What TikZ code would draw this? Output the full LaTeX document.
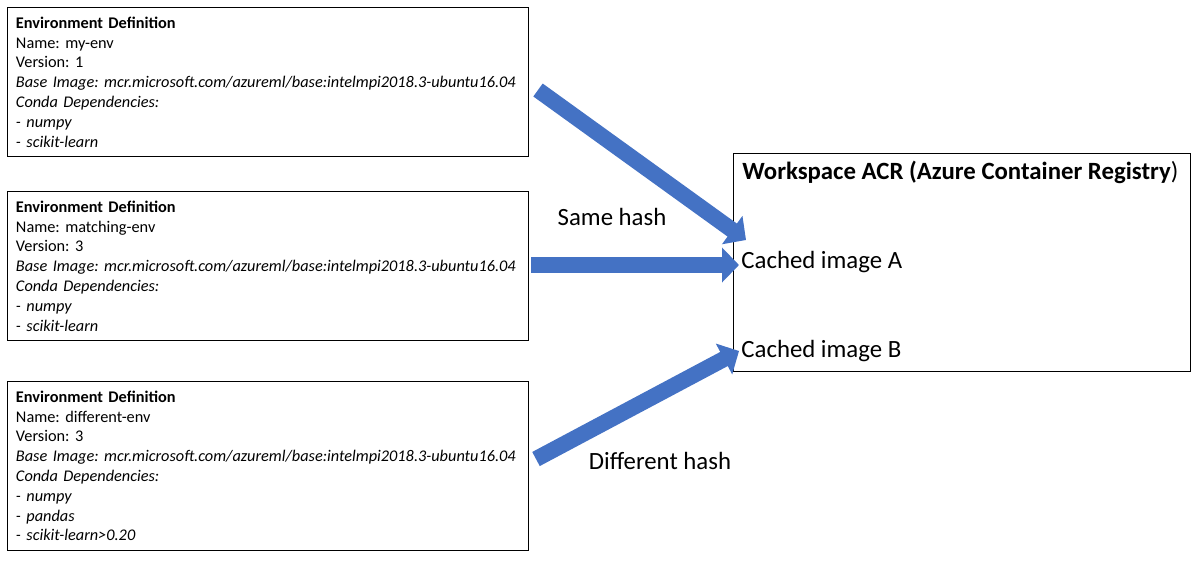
\documentclass[tikz,border=0pt]{standalone}
\usepackage{fontspec}
\setmainfont{Carlito}
\frenchspacing
\usetikzlibrary{positioning, arrows.meta}
\definecolor{arrowblue}{HTML}{4472C4}

\begin{document}
\begin{tikzpicture}[
    x=0.5pt, y=-0.5pt,
    % GLOBAL CFG
    font=\fontsize{8.15pt}{9.9pt}\selectfont,
    % Styles
    envbox/.style={% For the environment definitions
        rectangle,
        draw,
        line width=0.5pt,
        anchor=north west,
        minimum width=260.5pt,
        align=left,
        text width=252pt,
        inner xsep=4pt,
        inner ysep=2pt,
        },
    acrbox/.style={% For the registry box
        rectangle,
        draw,
        line width=0.5pt,
        anchor=north west,
        minimum width=228.5pt,
        minimum height=109pt,
        },
    bigtext/.style={% Larger labels
        font=\fontsize{12.4pt}{14pt}\selectfont,
        inner sep=1pt,
        },
    BlockArrow/.style={% Fat blue arrows
        line width=8pt,
        arrowblue,
        -{Triangle[length=8.5pt, width=17pt]},
        },
    ]

    \useasboundingbox (0,0) rectangle (1198,563);

    % Draw the environment definitions
    \node [envbox, minimum height=74.5pt] (env1) at (7,7) {%
        \textbf{Environment Definition}\\
        Name: my-env\\
        Version: 1\\
        \textit{Base Image: mcr.microsoft.com/azureml/base:intelmpi2018.3-ubuntu16.04}\\
        \textit{Conda Dependencies:}\\
        \textit{- numpy}\\
        \textit{- scikit-learn}};
    \node [envbox, minimum height=74.5pt] (env2) at (7,191) {%
        \textbf{Environment Definition}\\
        Name: matching-env\\
        Version: 3\\
        \textit{Base Image: mcr.microsoft.com/azureml/base:intelmpi2018.3-ubuntu16.04}\\
        \textit{Conda Dependencies:}\\
        \textit{- numpy}\\
        \textit{- scikit-learn}};
    \node [envbox, minimum height=84.5pt] (env3) at (7,381) {%
        \textbf{Environment Definition}\\
        Name: different-env\\
        Version: 3\\
        \textit{Base Image: mcr.microsoft.com/azureml/base:intelmpi2018.3-ubuntu16.04}\\
        \textit{Conda Dependencies:}\\
        \textit{- numpy}\\
        \textit{- pandas}\\
        \textit{- scikit-learn>0.20}};

    % Draw the registry
    \node [acrbox] (acr) at (733,153) {};
    \node [bigtext, anchor=west] (acrtitle) at (740,172) {\textbf{Workspace ACR (Azure Container Registry}{)}};
    \node [bigtext, anchor=west] (imgA) at (739,262) {Cached image A};
    \node [bigtext, anchor=west] (imgB) at (739,351) {Cached image B};

    % Hash labels
    \node [bigtext] (same) at (612,217) {Same hash};
    \node [bigtext] (diff) at (660,461) {Different hash};

    % Arrow ends
    \coordinate (t1) at (538,90);
    \coordinate (t2) at (531,265);
    \coordinate (t3) at (536,459);
    \coordinate (h1) at (746,240);

    % Drawing arrows
    \draw [BlockArrow] (t1) -- (h1);
    \draw [BlockArrow] (t2) -- (t2 -| imgA.west);
    \draw [BlockArrow] (t3) -- (imgB.west);

\end{tikzpicture}
\end{document}
